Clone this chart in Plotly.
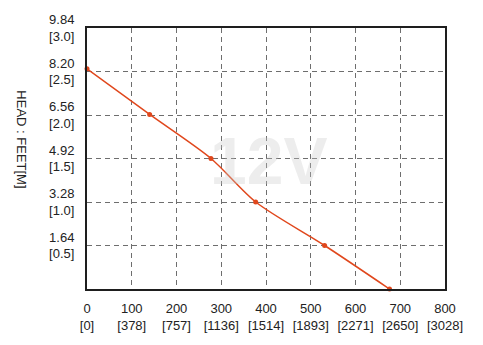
import plotly.graph_objects as go

# Data
flow = [0, 140, 277, 377, 531, 676]
head_ft = [8.30, 6.58, 4.92, 3.28, 1.64, 0.0]

x_tickvals = [0, 100, 200, 300, 400, 500, 600, 700, 800]
x_ticktext = ["0<br>[0]", "100<br>[378]", "200<br>[757]", "300<br>[1136]", "400<br>[1514]",
              "500<br>[1893]", "600<br>[2271]", "700<br>[2650]", "800<br>[3028]"]
y_tickvals = [1.64, 3.28, 4.92, 6.56, 8.20, 9.84]
y_ticktext = ["1.64<br>[0.5]", "3.28<br>[1.0]", "4.92<br>[1.5]", "6.56<br>[2.0]",
              "8.20<br>[2.5]", "9.84<br>[3.0]"]

red = "#e0471c"
tickfont = dict(family="Liberation Sans, Arial", size=13, color="#222")

fig = go.Figure()
fig.add_trace(go.Scatter(
    x=flow, y=head_ft, mode="lines+markers",
    line=dict(color=red, width=1.5, shape="spline", smoothing=0.8),
    marker=dict(color=red, size=5, symbol="circle"),
    showlegend=False, cliponaxis=False,
))

grid = dict(showgrid=True, gridcolor="#6e6e6e", gridwidth=1.2, griddash="5px,4px",
            showline=True, linecolor="#1e1e1e", linewidth=2, mirror=True,
            zeroline=False, ticks="", tickfont=tickfont)

fig.update_xaxes(range=[0, 800], tickvals=x_tickvals, ticktext=x_ticktext,
                 ticklabelstandoff=6, **grid)
fig.update_yaxes(range=[0, 9.84], tickvals=y_tickvals, ticktext=y_ticktext,
                 ticklabelstandoff=8, **grid)

fig.add_annotation(text="12V", xref="paper", yref="paper", x=0.508, y=0.49,
                   showarrow=False,
                   font=dict(family="Liberation Sans, Arial", size=66, color="rgba(200,200,200,0.33)",
                             weight="bold"))
fig.add_annotation(text="HEAD : FEET[M]", xref="paper", yref="paper", x=-0.184, y=0.573,
                   xanchor="center", yanchor="middle",
                   textangle=90, showarrow=False,
                   font=dict(family="Liberation Sans, Arial", size=13, color="#222"))

fig.update_layout(
    width=483, height=345,
    margin=dict(l=87, r=38, t=25, b=54),
    paper_bgcolor="white", plot_bgcolor="white",
)

fig.write_html("out.html")
